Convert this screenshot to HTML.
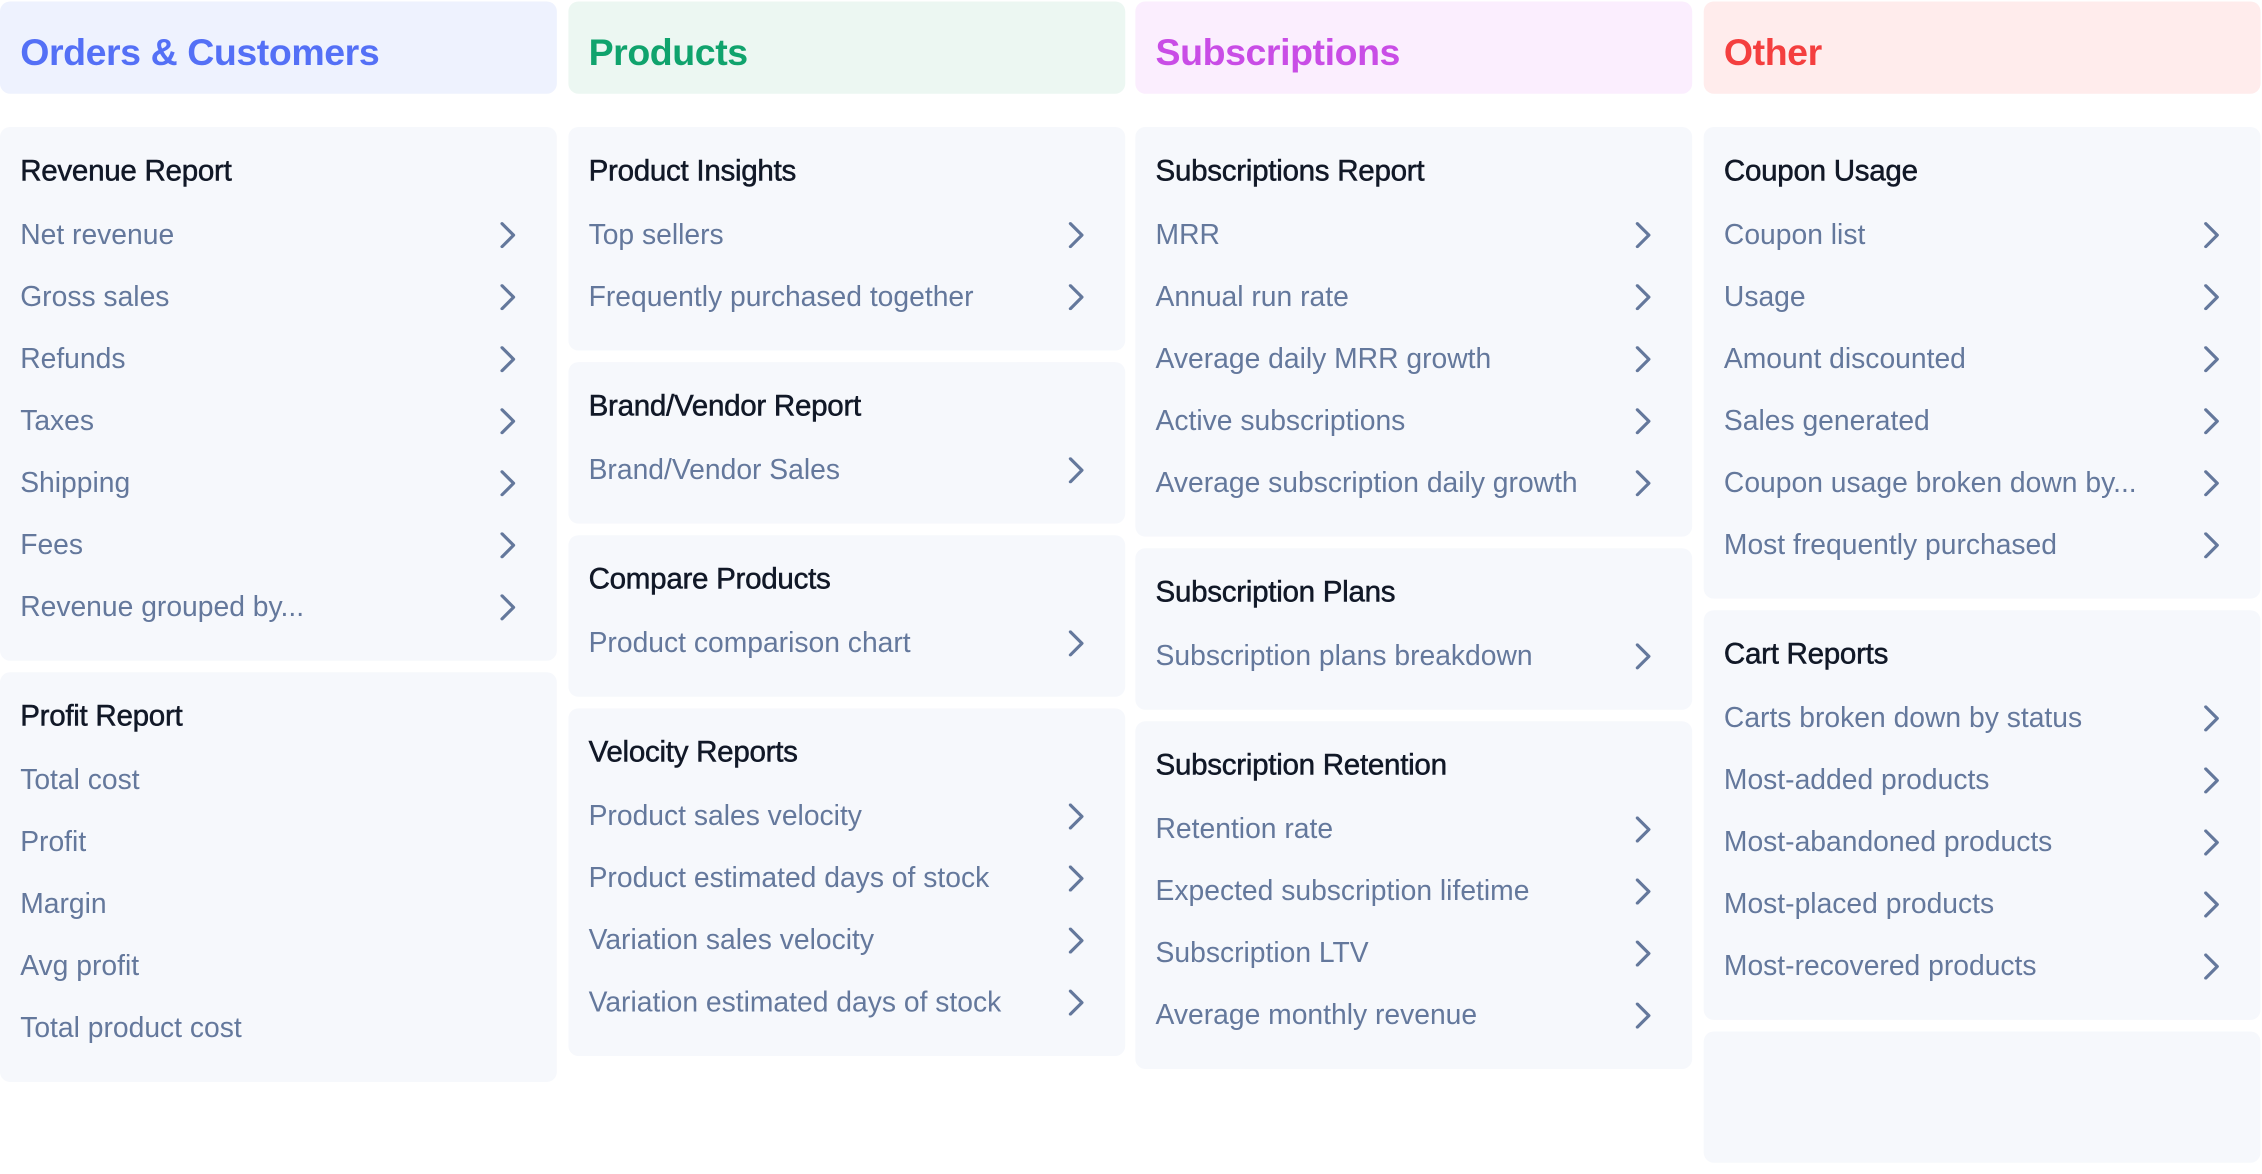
<!DOCTYPE html>
<html><head><meta charset="utf-8">
<style>
html,body{margin:0;padding:0;background:#fff;width:2262px;height:1060px;overflow:hidden}
#wrap{position:absolute;left:0;top:0;width:1568px;height:735px;transform:scale(1.44260);transform-origin:0 0;font-family:"Liberation Sans",sans-serif}
.col{position:absolute;top:1px;width:386px;display:flex;flex-direction:column}
.hdr{height:64px;box-sizing:border-box;padding-top:3px;border-radius:7px;font-size:26px;font-weight:bold;line-height:64px;padding-left:14px;letter-spacing:-0.3px;margin-bottom:23px}
.card{background:#f6f8fc;border-radius:7px;padding:15px 0 15.5px 14px;margin-bottom:8px;position:relative}
.title{font-size:20.5px;color:#111827;line-height:32px;margin-bottom:6.5px;letter-spacing:-0.2px;-webkit-text-stroke:0.35px #111827}
.item{font-size:19.6px;color:#64789c;line-height:43px;height:43px;position:relative}
.item svg{position:absolute;left:332px;top:12px}
</style></head><body>
<div id="wrap">
<div class="col" style="left:0">
 <div class="hdr" style="background:#eef2fe;color:#5470f6">Orders &amp; Customers</div>
 <div class="card">
  <div class="title">Revenue Report</div>
  <div class="item">Net revenue<svg width="12" height="18"><polyline points="2,1 10,9 2,17" fill="none" stroke="#64789c" stroke-width="2.2" stroke-linecap="round" stroke-linejoin="round"/></svg></div>
  <div class="item">Gross sales<svg width="12" height="18"><polyline points="2,1 10,9 2,17" fill="none" stroke="#64789c" stroke-width="2.2" stroke-linecap="round" stroke-linejoin="round"/></svg></div>
  <div class="item">Refunds<svg width="12" height="18"><polyline points="2,1 10,9 2,17" fill="none" stroke="#64789c" stroke-width="2.2" stroke-linecap="round" stroke-linejoin="round"/></svg></div>
  <div class="item">Taxes<svg width="12" height="18"><polyline points="2,1 10,9 2,17" fill="none" stroke="#64789c" stroke-width="2.2" stroke-linecap="round" stroke-linejoin="round"/></svg></div>
  <div class="item">Shipping<svg width="12" height="18"><polyline points="2,1 10,9 2,17" fill="none" stroke="#64789c" stroke-width="2.2" stroke-linecap="round" stroke-linejoin="round"/></svg></div>
  <div class="item">Fees<svg width="12" height="18"><polyline points="2,1 10,9 2,17" fill="none" stroke="#64789c" stroke-width="2.2" stroke-linecap="round" stroke-linejoin="round"/></svg></div>
  <div class="item">Revenue grouped by...<svg width="12" height="18"><polyline points="2,1 10,9 2,17" fill="none" stroke="#64789c" stroke-width="2.2" stroke-linecap="round" stroke-linejoin="round"/></svg></div>
 </div>
 <div class="card">
  <div class="title">Profit Report</div>
  <div class="item">Total cost</div>
  <div class="item">Profit</div>
  <div class="item">Margin</div>
  <div class="item">Avg profit</div>
  <div class="item">Total product cost</div>
 </div>
</div>

<div class="col" style="left:394px">
 <div class="hdr" style="background:#ecf7f2;color:#10a36d">Products</div>
 <div class="card">
  <div class="title">Product Insights</div>
  <div class="item">Top sellers<svg width="12" height="18"><polyline points="2,1 10,9 2,17" fill="none" stroke="#64789c" stroke-width="2.2" stroke-linecap="round" stroke-linejoin="round"/></svg></div>
  <div class="item">Frequently purchased together<svg width="12" height="18"><polyline points="2,1 10,9 2,17" fill="none" stroke="#64789c" stroke-width="2.2" stroke-linecap="round" stroke-linejoin="round"/></svg></div>
 </div>
 <div class="card">
  <div class="title">Brand/Vendor Report</div>
  <div class="item">Brand/Vendor Sales<svg width="12" height="18"><polyline points="2,1 10,9 2,17" fill="none" stroke="#64789c" stroke-width="2.2" stroke-linecap="round" stroke-linejoin="round"/></svg></div>
 </div>
 <div class="card">
  <div class="title">Compare Products</div>
  <div class="item">Product comparison chart<svg width="12" height="18"><polyline points="2,1 10,9 2,17" fill="none" stroke="#64789c" stroke-width="2.2" stroke-linecap="round" stroke-linejoin="round"/></svg></div>
 </div>
 <div class="card">
  <div class="title">Velocity Reports</div>
  <div class="item">Product sales velocity<svg width="12" height="18"><polyline points="2,1 10,9 2,17" fill="none" stroke="#64789c" stroke-width="2.2" stroke-linecap="round" stroke-linejoin="round"/></svg></div>
  <div class="item">Product estimated days of stock<svg width="12" height="18"><polyline points="2,1 10,9 2,17" fill="none" stroke="#64789c" stroke-width="2.2" stroke-linecap="round" stroke-linejoin="round"/></svg></div>
  <div class="item">Variation sales velocity<svg width="12" height="18"><polyline points="2,1 10,9 2,17" fill="none" stroke="#64789c" stroke-width="2.2" stroke-linecap="round" stroke-linejoin="round"/></svg></div>
  <div class="item">Variation estimated days of stock<svg width="12" height="18"><polyline points="2,1 10,9 2,17" fill="none" stroke="#64789c" stroke-width="2.2" stroke-linecap="round" stroke-linejoin="round"/></svg></div>
 </div>
</div>

<div class="col" style="left:787px">
 <div class="hdr" style="background:#fbeefe;color:#c94de6">Subscriptions</div>
 <div class="card">
  <div class="title">Subscriptions Report</div>
  <div class="item">MRR<svg width="12" height="18"><polyline points="2,1 10,9 2,17" fill="none" stroke="#64789c" stroke-width="2.2" stroke-linecap="round" stroke-linejoin="round"/></svg></div>
  <div class="item">Annual run rate<svg width="12" height="18"><polyline points="2,1 10,9 2,17" fill="none" stroke="#64789c" stroke-width="2.2" stroke-linecap="round" stroke-linejoin="round"/></svg></div>
  <div class="item">Average daily MRR growth<svg width="12" height="18"><polyline points="2,1 10,9 2,17" fill="none" stroke="#64789c" stroke-width="2.2" stroke-linecap="round" stroke-linejoin="round"/></svg></div>
  <div class="item">Active subscriptions<svg width="12" height="18"><polyline points="2,1 10,9 2,17" fill="none" stroke="#64789c" stroke-width="2.2" stroke-linecap="round" stroke-linejoin="round"/></svg></div>
  <div class="item">Average subscription daily growth<svg width="12" height="18"><polyline points="2,1 10,9 2,17" fill="none" stroke="#64789c" stroke-width="2.2" stroke-linecap="round" stroke-linejoin="round"/></svg></div>
 </div>
 <div class="card">
  <div class="title">Subscription Plans</div>
  <div class="item">Subscription plans breakdown<svg width="12" height="18"><polyline points="2,1 10,9 2,17" fill="none" stroke="#64789c" stroke-width="2.2" stroke-linecap="round" stroke-linejoin="round"/></svg></div>
 </div>
 <div class="card">
  <div class="title">Subscription Retention</div>
  <div class="item">Retention rate<svg width="12" height="18"><polyline points="2,1 10,9 2,17" fill="none" stroke="#64789c" stroke-width="2.2" stroke-linecap="round" stroke-linejoin="round"/></svg></div>
  <div class="item">Expected subscription lifetime<svg width="12" height="18"><polyline points="2,1 10,9 2,17" fill="none" stroke="#64789c" stroke-width="2.2" stroke-linecap="round" stroke-linejoin="round"/></svg></div>
  <div class="item">Subscription LTV<svg width="12" height="18"><polyline points="2,1 10,9 2,17" fill="none" stroke="#64789c" stroke-width="2.2" stroke-linecap="round" stroke-linejoin="round"/></svg></div>
  <div class="item">Average monthly revenue<svg width="12" height="18"><polyline points="2,1 10,9 2,17" fill="none" stroke="#64789c" stroke-width="2.2" stroke-linecap="round" stroke-linejoin="round"/></svg></div>
 </div>
</div>

<div class="col" style="left:1181px">
 <div class="hdr" style="background:#ffecec;color:#f43f3f">Other</div>
 <div class="card">
  <div class="title">Coupon Usage</div>
  <div class="item">Coupon list<svg width="12" height="18"><polyline points="2,1 10,9 2,17" fill="none" stroke="#64789c" stroke-width="2.2" stroke-linecap="round" stroke-linejoin="round"/></svg></div>
  <div class="item">Usage<svg width="12" height="18"><polyline points="2,1 10,9 2,17" fill="none" stroke="#64789c" stroke-width="2.2" stroke-linecap="round" stroke-linejoin="round"/></svg></div>
  <div class="item">Amount discounted<svg width="12" height="18"><polyline points="2,1 10,9 2,17" fill="none" stroke="#64789c" stroke-width="2.2" stroke-linecap="round" stroke-linejoin="round"/></svg></div>
  <div class="item">Sales generated<svg width="12" height="18"><polyline points="2,1 10,9 2,17" fill="none" stroke="#64789c" stroke-width="2.2" stroke-linecap="round" stroke-linejoin="round"/></svg></div>
  <div class="item">Coupon usage broken down by...<svg width="12" height="18"><polyline points="2,1 10,9 2,17" fill="none" stroke="#64789c" stroke-width="2.2" stroke-linecap="round" stroke-linejoin="round"/></svg></div>
  <div class="item">Most frequently purchased<svg width="12" height="18"><polyline points="2,1 10,9 2,17" fill="none" stroke="#64789c" stroke-width="2.2" stroke-linecap="round" stroke-linejoin="round"/></svg></div>
 </div>
 <div class="card">
  <div class="title">Cart Reports</div>
  <div class="item">Carts broken down by status<svg width="12" height="18"><polyline points="2,1 10,9 2,17" fill="none" stroke="#64789c" stroke-width="2.2" stroke-linecap="round" stroke-linejoin="round"/></svg></div>
  <div class="item">Most-added products<svg width="12" height="18"><polyline points="2,1 10,9 2,17" fill="none" stroke="#64789c" stroke-width="2.2" stroke-linecap="round" stroke-linejoin="round"/></svg></div>
  <div class="item">Most-abandoned products<svg width="12" height="18"><polyline points="2,1 10,9 2,17" fill="none" stroke="#64789c" stroke-width="2.2" stroke-linecap="round" stroke-linejoin="round"/></svg></div>
  <div class="item">Most-placed products<svg width="12" height="18"><polyline points="2,1 10,9 2,17" fill="none" stroke="#64789c" stroke-width="2.2" stroke-linecap="round" stroke-linejoin="round"/></svg></div>
  <div class="item">Most-recovered products<svg width="12" height="18"><polyline points="2,1 10,9 2,17" fill="none" stroke="#64789c" stroke-width="2.2" stroke-linecap="round" stroke-linejoin="round"/></svg></div>
 </div>
 <div class="card" style="height:60px"></div>
</div>
</div>
</body></html>
